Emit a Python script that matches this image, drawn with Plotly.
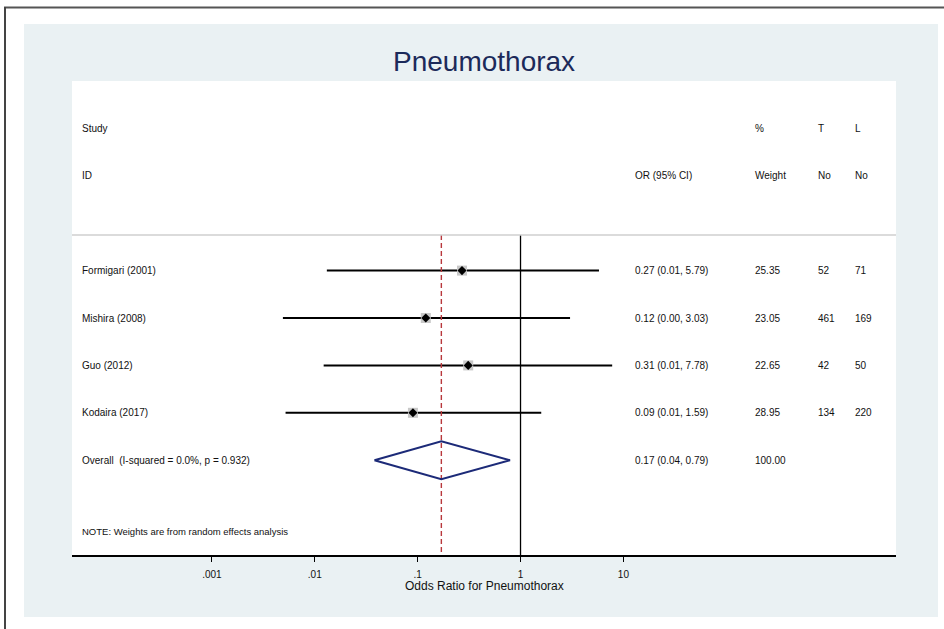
"""Forest plot: pneumothorax odds ratios (random effects)."""

import plotly.graph_objects as go

# ---- data -------------------------------------------------------------
studies = ["Formigari (2001)", "Mishira (2008)", "Guo (2012)", "Kodaira (2017)"]
odds_ratio = [0.27, 0.12, 0.31, 0.09]
ci_low = [0.0131, 0.0049, 0.0122, 0.0052]
ci_high = [5.79, 3.03, 7.78, 1.59]
weights = ["25.35", "23.05", "22.65", "28.95"]
t_no = ["52", "461", "42", "134"]
l_no = ["71", "169", "50", "220"]
ci_text = ["0.27 (0.01, 5.79)", "0.12 (0.00, 3.03)", "0.31 (0.01, 7.78)", "0.09 (0.01, 1.59)"]

overall_label = "Overall  (I-squared = 0.0%, p = 0.932)"
overall_or = 0.17
overall_low = 0.038
overall_high = 0.79
overall_text = "0.17 (0.04, 0.79)"
overall_weight = "100.00"

tick_vals = [0.001, 0.01, 0.1, 1, 10]
tick_text = [".001", ".01", ".1", "1", "10"]

# ---- styling ----------------------------------------------------------
FONT = "Liberation Sans, Arial, sans-serif"
BG_BLUE = "#eaf1f3"
NAVY = "#1c2a78"
TITLE_NAVY = "#1c2a5a"
RED = "#b8383c"

W, H = 944, 629
L, R, T, B = 72, 896, 81, 555  # plot region in pixels


def px(xpix):
    return (xpix - L) / (R - L)


def py(ypix):
    return (B - ypix) / (B - T)


rows = list(range(1, len(studies) + 1))
overall_row = len(studies) + 1

fig = go.Figure()

# confidence intervals
ci_x, ci_y = [], []
for lo, hi, r in zip(ci_low, ci_high, rows):
    ci_x += [lo, hi, None]
    ci_y += [r, r, None]
fig.add_trace(go.Scatter(x=ci_x, y=ci_y, mode="lines",
                         line=dict(color="black", width=2), hoverinfo="skip"))

# reference lines (null effect and overall estimate)
fig.add_trace(go.Scatter(x=[1, 1], y=[0.25, 7], mode="lines",
                         line=dict(color="black", width=1.3), hoverinfo="skip"))
fig.add_trace(go.Scatter(x=[overall_or, overall_or], y=[0.25, 7], mode="lines",
                         line=dict(color=RED, width=1.4, dash="5px,3px"),
                         hoverinfo="skip"))

# weight boxes + point estimates
fig.add_trace(go.Scatter(x=odds_ratio, y=rows, mode="markers",
                         marker=dict(symbol="square", size=10, color="#c8c8c8"),
                         hoverinfo="skip"))
fig.add_trace(go.Scatter(x=odds_ratio, y=rows, mode="markers",
                         marker=dict(symbol="diamond", size=7, color="black"),
                         text=studies,
                         hovertemplate="%{text}: %{x}<extra></extra>"))

# overall diamond
fig.add_trace(go.Scatter(
    x=[overall_low, overall_or, overall_high, overall_or, overall_low],
    y=[overall_row, overall_row - 0.4, overall_row, overall_row + 0.4, overall_row],
    mode="lines", line=dict(color=NAVY, width=2), hoverinfo="skip"))

# ---- table text -------------------------------------------------------
cols = {"study": px(80), "ci": px(633), "w": px(753), "t": px(816), "l": px(853)}


def add_text(x, y, s, size=10, color="#111111"):
    fig.add_annotation(x=x, y=y, xref="paper", yref="y", text=s, showarrow=False,
                       xanchor="left", yanchor="middle",
                       font=dict(family=FONT, size=size, color=color))


add_text(cols["study"], -2, "Study")
add_text(cols["study"], -1, "ID")
add_text(cols["ci"], -1, "OR (95% CI)")
add_text(cols["w"], -2, "%")
add_text(cols["w"], -1, "Weight")
add_text(cols["t"], -2, "T")
add_text(cols["t"], -1, "No")
add_text(cols["l"], -2, "L")
add_text(cols["l"], -1, "No")

for r, name, ci, w, t, l in zip(rows, studies, ci_text, weights, t_no, l_no):
    add_text(cols["study"], r, name)
    add_text(cols["ci"], r, ci)
    add_text(cols["w"], r, w)
    add_text(cols["t"], r, t)
    add_text(cols["l"], r, l)

add_text(cols["study"], overall_row, overall_label)
add_text(cols["ci"], overall_row, overall_text)
add_text(cols["w"], overall_row, overall_weight)
add_text(cols["study"], 6.5, "NOTE: Weights are from random effects analysis", size=9.5)

# titles
fig.add_annotation(x=px(484), y=py(62), xref="paper", yref="paper",
                   text="Pneumothorax", showarrow=False,
                   xanchor="center", yanchor="middle",
                   font=dict(family=FONT, size=28, color=TITLE_NAVY))
fig.add_annotation(x=px(484), y=py(586), xref="paper", yref="paper",
                   text="Odds Ratio for Pneumothorax", showarrow=False,
                   xanchor="center", yanchor="middle",
                   font=dict(family=FONT, size=12, color="#111111"))

# ---- backgrounds and frame -------------------------------------------
fig.add_shape(type="rect", xref="paper", yref="paper", layer="below",
              x0=px(24), x1=px(938), y0=py(617), y1=py(24),
              fillcolor=BG_BLUE, line_width=0)
fig.add_shape(type="rect", xref="paper", yref="paper", layer="below",
              x0=0, x1=1, y0=0, y1=1, fillcolor="white", line_width=0)
fig.add_shape(type="line", xref="paper", yref="paper",
              x0=0, x1=1, y0=py(235), y1=py(235),
              line=dict(color="#cfcfcf", width=1.5))
fig.add_shape(type="line", xref="paper", yref="paper",
              x0=px(4), x1=px(W), y0=py(7.5), y1=py(7.5),
              line=dict(color="#555555", width=2))
fig.add_shape(type="line", xref="paper", yref="paper",
              x0=px(5), x1=px(5), y0=py(7), y1=py(H),
              line=dict(color="#444444", width=2))

fig.update_layout(
    width=W, height=H,
    margin=dict(l=L, r=W - R, t=T, b=H - B, pad=0),
    paper_bgcolor="white",
    plot_bgcolor="rgba(0,0,0,0)",
    showlegend=False,
    font=dict(family=FONT, color="#111111"),
    xaxis=dict(
        type="log", range=[-4.36, 3.65],
        tickvals=tick_vals, ticktext=tick_text,
        ticks="outside", ticklen=5, tickwidth=1.3, tickcolor="black",
        ticklabelstandoff=4,
        tickfont=dict(family=FONT, size=10, color="#111111"),
        showline=True, linecolor="black", linewidth=1.5,
        showgrid=False, zeroline=False, fixedrange=True,
    ),
    yaxis=dict(
        range=[7, -3], showgrid=False, zeroline=False,
        showticklabels=False, showline=False, fixedrange=True,
    ),
)

fig.write_html("out.html", config={"displayModeBar": False},
               post_script="document.body.style.margin='0';")
